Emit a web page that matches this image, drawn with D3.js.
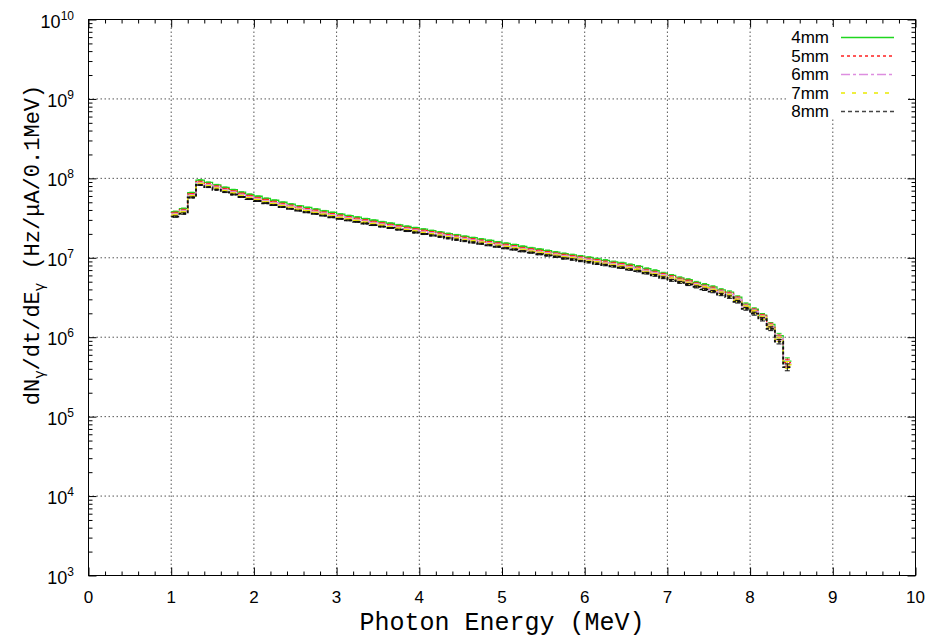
<!DOCTYPE html>
<html>
<head>
<meta charset="utf-8">
<script src="https://cdn.jsdelivr.net/npm/d3@7/dist/d3.min.js"></script>
<style>
  html, body { margin: 0; padding: 0; background: #fff; }
  svg { display: block; }
</style>
</head>
<body>
<svg id="chart" width="931" height="638"></svg>
<script>
// bin low edges (MeV), bin width 0.1 MeV
const binEdges = [
  1.0, 1.1, 1.2, 1.3, 1.4, 1.5, 1.6, 1.7, 1.8, 1.9,
  2.0, 2.1, 2.2, 2.3, 2.4, 2.5, 2.6, 2.7, 2.8, 2.9,
  3.0, 3.1, 3.2, 3.3, 3.4, 3.5, 3.6, 3.7, 3.8, 3.9,
  4.0, 4.1, 4.2, 4.3, 4.4, 4.5, 4.6, 4.7, 4.8, 4.9,
  5.0, 5.1, 5.2, 5.3, 5.4, 5.5, 5.6, 5.7, 5.8, 5.9,
  6.0, 6.1, 6.2, 6.3, 6.4, 6.5, 6.6, 6.7, 6.8, 6.9,
  7.0, 7.1, 7.2, 7.3, 7.4, 7.5, 7.6, 7.7, 7.8, 7.9,
  8.0, 8.1, 8.2, 8.3, 8.4
];
const binWidth = 0.1;

// rates in units of 1e6 Hz/uA/0.1MeV
const rate4mm = [
  38, 41.5, 66, 95, 89, 83, 77, 72, 67, 63,
  59.5, 56, 53, 50, 47.5, 45, 43, 41, 39, 37.2,
  35.5, 34, 32.5, 31, 29.7, 28.4, 27.2, 26, 24.9, 23.9,
  22.9, 22, 21.1, 20.2, 19.4, 18.6, 17.9, 17.2, 16.5, 15.8,
  15.2, 14.6, 13.9, 13.3, 12.8, 12.3, 11.8, 11.3, 10.9, 10.5,
  10.1, 9.7, 9.3, 8.9, 8.6, 8.2, 7.8, 7.3, 6.9, 6.4,
  6.0, 5.6, 5.3, 4.9, 4.6, 4.3, 3.95, 3.7, 3.2, 2.6,
  2.25, 1.9, 1.45, 1.05, 0.5
];
const rate5mm = [
  36.8, 40, 63.5, 91, 85.5, 79.5, 74, 69, 64.5, 60.5,
  57, 54, 51, 48, 45.5, 43.3, 41.2, 39.4, 37.4, 35.7,
  34.1, 32.6, 31.2, 29.8, 28.5, 27.3, 26.1, 25, 23.9, 22.9,
  22, 21.1, 20.3, 19.4, 18.6, 17.9, 17.2, 16.5, 15.8, 15.2,
  14.6, 14, 13.3, 12.8, 12.3, 11.8, 11.3, 10.9, 10.5, 10.1,
  9.7, 9.3, 8.9, 8.6, 8.3, 7.9, 7.5, 7.0, 6.6, 6.2,
  5.8, 5.4, 5.1, 4.7, 4.4, 4.15, 3.8, 3.55, 3.1, 2.5,
  2.18, 1.85, 1.42, 1.0, 0.48
];
const rate6mm = [
  35.5, 38.8, 61.5, 88, 83, 77, 71.5, 67, 62.5, 58.5,
  55.3, 52, 49.3, 46.5, 44.2, 41.8, 40, 38.1, 36.3, 34.6,
  33, 31.6, 30.2, 28.8, 27.6, 26.4, 25.3, 24.2, 23.2, 22.2,
  21.3, 20.5, 19.6, 18.8, 18, 17.3, 16.6, 16, 15.3, 14.7,
  14.1, 13.6, 12.9, 12.4, 11.9, 11.4, 11, 10.5, 10.1, 9.8,
  9.4, 9, 8.6, 8.3, 8, 7.6, 7.25, 6.8, 6.4, 6,
  5.6, 5.2, 4.9, 4.6, 4.3, 4, 3.7, 3.45, 3.0, 2.45,
  2.12, 1.8, 1.38, 0.97, 0.46
];
const rate7mm = [
  34.5, 37.6, 59.8, 86, 80.5, 75, 69.7, 65.2, 60.6, 57,
  53.8, 50.7, 48, 45.2, 43, 40.7, 38.9, 37.1, 35.3, 33.7,
  32.1, 30.8, 29.4, 28, 26.9, 25.7, 24.6, 23.5, 22.5, 21.6,
  20.7, 19.9, 19.1, 18.3, 17.6, 16.8, 16.2, 15.6, 14.9, 14.3,
  13.8, 13.2, 12.6, 12, 11.6, 11.1, 10.7, 10.2, 9.9, 9.5,
  9.1, 8.8, 8.4, 8.1, 7.8, 7.4, 7.1, 6.6, 6.2, 5.8,
  5.45, 5.1, 4.8, 4.45, 4.2, 3.9, 3.6, 3.35, 2.92, 2.4,
  2.07, 1.76, 1.35, 0.94, 0.45
];
const rate8mm = [
  33, 36, 57.5, 82.5, 77.5, 72, 67, 62.6, 58.3, 54.8,
  51.8, 48.7, 46.1, 43.5, 41.3, 39.2, 37.4, 35.7, 33.9, 32.4,
  30.9, 29.6, 28.3, 27, 25.8, 24.7, 23.7, 22.6, 21.7, 20.8,
  19.9, 19.1, 18.4, 17.6, 16.9, 16.2, 15.6, 15, 14.4, 13.8,
  13.2, 12.7, 12.1, 11.6, 11.1, 10.7, 10.3, 9.8, 9.5, 9.1,
  8.8, 8.4, 8.1, 7.8, 7.5, 7.1, 6.8, 6.4, 6, 5.6,
  5.2, 4.9, 4.6, 4.3, 4, 3.75, 3.45, 3.2, 2.8, 2.28,
  1.98, 1.68, 1.28, 0.88, 0.42
];
// relative statistical error per bin
const relErr = [
  0.02, 0.02, 0.015, 0.012, 0.012, 0.012, 0.012, 0.012, 0.012, 0.012,
  0.012, 0.012, 0.012, 0.012, 0.012, 0.012, 0.012, 0.012, 0.012, 0.012,
  0.013, 0.013, 0.013, 0.013, 0.013, 0.013, 0.013, 0.013, 0.014, 0.014,
  0.014, 0.014, 0.014, 0.015, 0.015, 0.015, 0.015, 0.015, 0.016, 0.016,
  0.016, 0.016, 0.017, 0.017, 0.017, 0.018, 0.018, 0.018, 0.019, 0.019,
  0.02, 0.02, 0.021, 0.021, 0.022, 0.022, 0.023, 0.024, 0.025, 0.026,
  0.027, 0.028, 0.029, 0.03, 0.031, 0.032, 0.034, 0.036, 0.038, 0.04,
  0.043, 0.047, 0.055, 0.065, 0.1
];

const seriesNames = ['4mm', '5mm', '6mm', '7mm', '8mm'];
const seriesRates = [rate4mm, rate5mm, rate6mm, rate7mm, rate8mm];
const seriesColors = ['#1fd61f', '#ff2020', '#dd8ee0', '#eaea00', '#111111'];
const seriesDash = [null, '2,3', '8,2,2,2', '4,6', '3,2'];
const seriesWidth = [1.3, 1.3, 1.3, 1.3, 1.9];
const legendDash = [null, '3,3', '9,3,3,3', '4,7', '4,3'];
const legendColors = ['#1fd61f', '#ff2020', '#dd8ee0', '#eaea00', '#444444'];

const xTicks = [0, 1, 2, 3, 4, 5, 6, 7, 8, 9, 10];
const yExponents = [3, 4, 5, 6, 7, 8, 9, 10];

const svg = d3.select('#chart');
const plotLeft = 88.5, plotRight = 915.5, plotTop = 19.5, plotBottom = 575.5;

const x = d3.scaleLinear().domain([0, 10]).range([plotLeft, plotRight]);
const y = d3.scaleLog().domain([1e3, 1e10]).range([plotBottom, plotTop]);

const sansFont = "'Liberation Sans', Arial, Helvetica, sans-serif";
const monoFont = "'Liberation Mono', 'Courier New', monospace";

// grid
const grid = svg.append('g').attr('stroke', '#555').attr('stroke-dasharray', '1.5,2.5');
grid.selectAll('line.gx')
  .data(xTicks.slice(1, -1))
  .enter().append('line')
  .attr('x1', (d) => x(d)).attr('x2', (d) => x(d))
  .attr('y1', plotTop).attr('y2', plotBottom);
grid.selectAll('line.gy')
  .data(yExponents.slice(1, -1))
  .enter().append('line')
  .attr('x1', plotLeft).attr('x2', plotRight)
  .attr('y1', (d) => y(Math.pow(10, d))).attr('y2', (d) => y(Math.pow(10, d)));

// ticks on all four sides, pointing inward
const xMinor = d3.range(0, 10.001, 0.2).filter((v) => Math.abs(v - Math.round(v)) > 1e-6);
const yMinor = [];
yExponents.slice(0, -1).forEach((e) => {
  for (let k = 2; k <= 9; k++) yMinor.push(k * Math.pow(10, e));
});
const yMajor = yExponents.map((e) => Math.pow(10, e));

function addTicks(axis, values, size) {
  let a, b;
  if (axis === 'x') {
    a = svg.append('g').attr('transform', `translate(0,${plotBottom})`)
      .call(d3.axisBottom(x).tickValues(values).tickSize(-size).tickFormat(''));
    b = svg.append('g').attr('transform', `translate(0,${plotTop})`)
      .call(d3.axisTop(x).tickValues(values).tickSize(-size).tickFormat(''));
  } else {
    a = svg.append('g').attr('transform', `translate(${plotLeft},0)`)
      .call(d3.axisLeft(y).tickValues(values).tickSize(-size).tickFormat(''));
    b = svg.append('g').attr('transform', `translate(${plotRight},0)`)
      .call(d3.axisRight(y).tickValues(values).tickSize(-size).tickFormat(''));
  }
  a.select('.domain').remove();
  b.select('.domain').remove();
}
addTicks('x', xTicks, 8);
addTicks('x', xMinor, 4);
addTicks('y', yMajor, 8);
addTicks('y', yMinor, 4);
svg.selectAll('.tick line').attr('stroke', '#000');

// frame
svg.append('rect')
  .attr('x', plotLeft).attr('y', plotTop)
  .attr('width', plotRight - plotLeft).attr('height', plotBottom - plotTop)
  .attr('fill', 'none').attr('stroke', '#000').attr('stroke-width', 1);

// x tick labels
svg.append('g').selectAll('text')
  .data(xTicks)
  .enter().append('text')
  .attr('x', (d) => x(d))
  .attr('y', 603)
  .attr('text-anchor', 'middle')
  .attr('font-family', sansFont)
  .attr('font-size', 17)
  .text((d) => d);

// y tick labels 10^n
const yLab = svg.append('g').selectAll('text')
  .data(yExponents)
  .enter().append('text')
  .attr('x', 74)
  .attr('y', (d) => y(Math.pow(10, d)) + 8)
  .attr('text-anchor', 'end')
  .attr('font-family', sansFont)
  .attr('font-size', 18);
yLab.append('tspan').text('10');
yLab.append('tspan').attr('font-size', 12).attr('dy', -8).text((d) => d);

// histogram steps with error bars
const line = d3.line()
  .x((d) => x(d[0]))
  .y((d) => y(d[1]))
  .curve(d3.curveStepAfter);

seriesRates.forEach((rates, s) => {
  const pts = binEdges.map((e, i) => [e, rates[i] * 1e6]);
  pts.push([binEdges[binEdges.length - 1] + binWidth, rates[rates.length - 1] * 1e6]);
  svg.append('path')
    .datum(pts)
    .attr('d', line)
    .attr('fill', 'none')
    .attr('stroke', seriesColors[s])
    .attr('stroke-width', seriesWidth[s])
    .attr('stroke-dasharray', seriesDash[s]);

  const bars = svg.append('g').attr('stroke', seriesColors[s]).attr('stroke-width', 1);
  binEdges.forEach((e, i) => {
    const cx = x(e + binWidth / 2);
    const v = rates[i] * 1e6;
    const lo = y(v * (1 - relErr[i]));
    const hi = y(v * (1 + relErr[i]));
    bars.append('line').attr('x1', cx).attr('x2', cx).attr('y1', lo).attr('y2', hi);
    bars.append('line').attr('x1', cx - 2.5).attr('x2', cx + 2.5).attr('y1', lo).attr('y2', lo);
    bars.append('line').attr('x1', cx - 2.5).attr('x2', cx + 2.5).attr('y1', hi).attr('y2', hi);
  });
});

// legend
svg.append('rect')
  .attr('x', 788).attr('y', 27)
  .attr('width', 120).attr('height', 92)
  .attr('fill', '#fff');
const legend = svg.append('g').selectAll('g')
  .data(seriesNames)
  .enter().append('g')
  .attr('transform', (d, i) => `translate(0,${37 + i * 18.5})`);
legend.append('text')
  .attr('x', 829).attr('y', 6)
  .attr('text-anchor', 'end')
  .attr('font-family', sansFont)
  .attr('font-size', 17)
  .text((d) => d);
legend.append('line')
  .attr('x1', 841).attr('x2', 894)
  .attr('y1', 0.5).attr('y2', 0.5)
  .attr('stroke', (d, i) => legendColors[i])
  .attr('stroke-width', 1.5)
  .attr('stroke-dasharray', (d, i) => legendDash[i]);

// axis titles
svg.append('text')
  .attr('x', (plotLeft + plotRight) / 2)
  .attr('y', 630)
  .attr('text-anchor', 'middle')
  .attr('font-family', monoFont)
  .attr('font-size', 25)
  .text('Photon Energy (MeV)');

const yTitle = svg.append('text')
  .attr('transform', 'translate(39,245) rotate(-90)')
  .attr('text-anchor', 'middle')
  .attr('font-family', monoFont)
  .attr('font-size', 22);
yTitle.append('tspan').text('dN');
yTitle.append('tspan').attr('font-size', 14).attr('dy', 5).text('γ');
yTitle.append('tspan').attr('dy', -5).text('/dt/dE');
yTitle.append('tspan').attr('font-size', 14).attr('dy', 5).text('γ');
yTitle.append('tspan').attr('dy', -5).text(' (Hz/μA/0.1MeV)');
</script>
</body>
</html>
